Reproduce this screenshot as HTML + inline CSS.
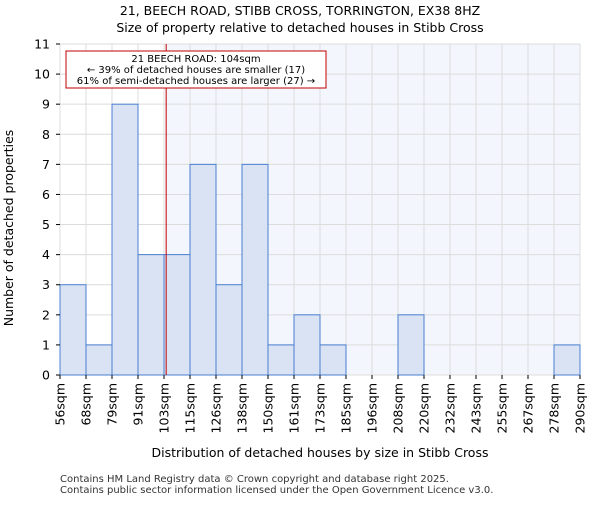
<!DOCTYPE html>
<html><head><meta charset="utf-8"><style>body{margin:0;background:#fff}svg{font-family:"DejaVu Sans","Liberation Sans",sans-serif}</style></head>
<body>
<svg id="c" width="600" height="500"></svg>
<script>
const binEdges=[56,68,79,91,103,115,126,138,150,161,173,185,196,208,220,232,243,255,267,278,290];
const counts=[3,1,9,4,4,7,3,7,1,2,1,0,0,2,0,0,0,0,0,1];
const yTicks=[0,1,2,3,4,5,6,7,8,9,10,11];
const subject=104;
const NS='http://www.w3.org/2000/svg';
const svg=document.getElementById('c');
const L=60,R=580,T=44,B=375,ymax=11;
const bw=(R-L)/counts.length;
const y=v=>B-(B-T)*v/ymax;
function xv(v){for(let i=0;i<binEdges.length-1;i++){if(v<=binEdges[i+1])return L+bw*(i+(v-binEdges[i])/(binEdges[i+1]-binEdges[i]));}return R;}
function el(t,a,txt){const e=document.createElementNS(NS,t);for(const k in a)e.setAttribute(k,a[k]);if(txt!==undefined)e.textContent=txt;svg.appendChild(e);return e;}
const sx=xv(subject);
let e=el('rect',{x:sx,y:T,width:R-sx,height:B-T,fill:'#f3f6fc'});


yTicks.forEach(t=>{let g=el('line',{x1:L,x2:R,y1:y(t),y2:y(t),stroke:'#dcdcdc','stroke-width':1});

});
binEdges.forEach((b,i)=>{let g=el('line',{x1:L+bw*i,x2:L+bw*i,y1:T,y2:B,stroke:'#dcdcdc','stroke-width':1});

});
counts.forEach((c,i)=>{if(c<=0)return;let r=el('rect',{x:L+bw*i,y:y(c),width:bw,height:B-y(c),fill:'#dae3f3',stroke:'#4a7fd0','stroke-width':1});

});
e=el('line',{x1:sx,x2:sx,y1:T,y2:B,stroke:'#c00000','stroke-width':1});


yTicks.forEach(t=>{let g=el('text',{x:L-10,y:y(t)+4.5,'text-anchor':'end','font-size':12.5,fill:'#000'},t);


el('line',{x1:L-4,x2:L,y1:y(t),y2:y(t),stroke:'#000'});});
binEdges.forEach((b,i)=>{const x=L+bw*i;el('line',{x1:x,x2:x,y1:B,y2:B+4,stroke:'#000'});
let g=el('text',{transform:`translate(${x+4.5},${B+8}) rotate(-90)`,'text-anchor':'end','font-size':12.5},b+'sqm');

});
e=el('rect',{x:66,y:51,width:260,height:37,fill:'#fff',stroke:'#c00000','stroke-width':1});


[['21 BEECH ROAD: 104sqm',62],['← 39% of detached houses are smaller (17)',73],['61% of semi-detached houses are larger (27) →',84]].forEach(a=>{let g=el('text',{x:196,y:a[1],'text-anchor':'middle','font-size':10},a[0]);

});
[['21, BEECH ROAD, STIBB CROSS, TORRINGTON, EX38 8HZ',15,'chart-title'],['Size of property relative to detached houses in Stibb Cross',32,'chart-subtitle']].forEach(a=>{let g=el('text',{x:300,y:a[1],'text-anchor':'middle','font-size':12.5},a[0]);

});
e=el('text',{x:320,y:457,'text-anchor':'middle','font-size':12.5},'Distribution of detached houses by size in Stibb Cross');


e=el('text',{transform:'translate(13,228) rotate(-90)','text-anchor':'middle','font-size':12.5},'Number of detached properties');


[['Contains HM Land Registry data © Crown copyright and database right 2025.',482],['Contains public sector information licensed under the Open Government Licence v3.0.',493]].forEach(a=>{let g=el('text',{x:60,y:a[1],'font-size':10,fill:'#333'},a[0]);

});
</script>
</body></html>
